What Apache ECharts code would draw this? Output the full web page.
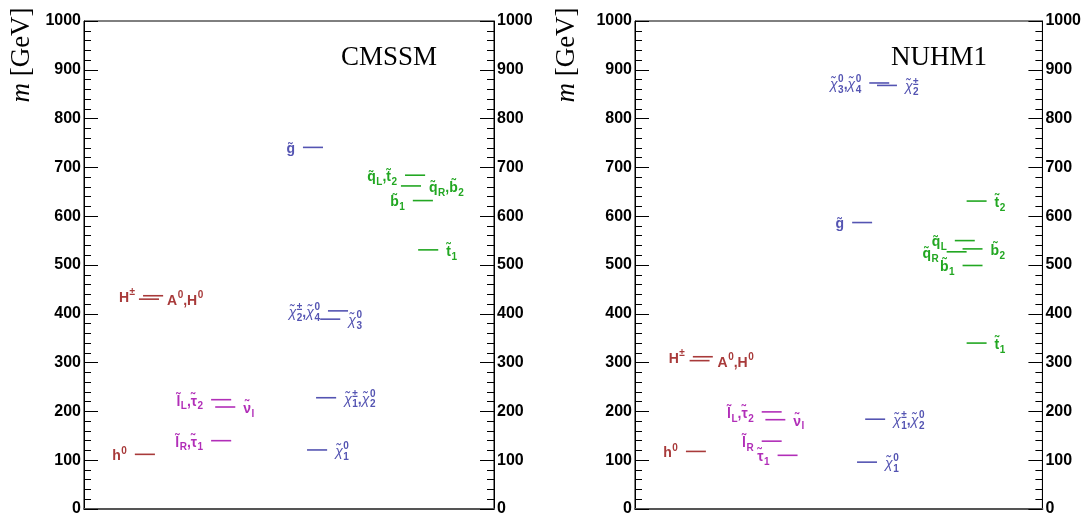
<!DOCTYPE html>
<html>
<head>
<meta charset="utf-8">
<script src="https://cdn.jsdelivr.net/npm/echarts@6/dist/echarts.min.js"></script>
<style>html,body{margin:0;padding:0;background:#fff}#c{width:1084px;height:517px}</style>
</head>
<body>
<div id="c"></div>
<script>
// ---------- DATA ----------
const yTicks = [0, 100, 200, 300, 400, 500, 600, 700, 800, 900, 1000];

// CMSSM spectrum
const cmssmLabels = ['h^0', 'H^±', 'A^0,H^0', 'l̃_R,τ̃_1', 'l̃_L,τ̃_2', 'ν̃_l',
  'χ̃_1^0', 'χ̃_1^±,χ̃_2^0', 'χ̃_2^±,χ̃_4^0', 'χ̃_3^0', 'g̃',
  'q̃_L,t̃_2', 'q̃_R,b̃_2', 'b̃_1', 't̃_1'];
const cmssmMasses = [112, 437, 430, 140, 224, 209, 121, 228, 406, 389, 741, 684, 662, 632, 531];
const cmssmColumns = [12.4, 14.4, 13.4, 31.0, 31.0, 32.0, 54.4, 56.6, 59.5, 57.6, 53.4, 78.3, 77.3, 80.2, 81.5];
const cmssmGroups = ['higgs', 'higgs', 'higgs', 'slepton', 'slepton', 'slepton',
  'gaugino', 'gaugino', 'gaugino', 'gaugino', 'gaugino', 'squark', 'squark', 'squark', 'squark'];
const cmssmSides = ['L', 'L', 'R', 'L', 'L', 'R', 'R', 'R', 'L', 'R', 'L', 'L', 'R', 'L', 'R'];

// NUHM1 spectrum
const nuhmLabels = ['h^0', 'H^±', 'A^0,H^0', 'l̃_R', 'τ̃_1', 'l̃_L,τ̃_2', 'ν̃_l',
  'χ̃_1^0', 'χ̃_1^±,χ̃_2^0', 'χ̃_3^0,χ̃_4^0', 'χ̃_2^±', 'g̃',
  't̃_2', 'q̃_L', 'b̃_2', 'q̃_R', 'b̃_1', 't̃_1'];
const nuhmMasses = [118, 312, 304, 139, 110, 199, 183, 96, 184, 873, 868, 587, 631, 550, 533, 527, 499, 340];
const nuhmColumns = [12.5, 14.2, 13.4, 31.1, 35.0, 31.1, 32.0, 54.5, 56.5, 57.5, 59.4, 53.3, 81.4, 78.5, 80.4, 76.5, 80.4, 81.4];
const nuhmGroups = ['higgs', 'higgs', 'higgs', 'slepton', 'slepton', 'slepton', 'slepton',
  'gaugino', 'gaugino', 'gaugino', 'gaugino', 'gaugino', 'squark', 'squark', 'squark', 'squark', 'squark', 'squark'];
const nuhmSides = ['L', 'L', 'R', 'L', 'L', 'L', 'R', 'R', 'R', 'L', 'R', 'L', 'R', 'L', 'R', 'L', 'L', 'R'];

// ---------- STYLE ----------
const groupColors = { higgs: '#a83a3a', slepton: '#b12eb8', gaugino: '#5454b2', squark: '#22a722' };
const SEG_W = 4.9;
const SANS = '"Liberation Sans", Arial, sans-serif';
const SERIF = '"Liberation Serif", "Times New Roman", serif';
const MAIN_FS = 14, SMALL_FS = 10;

const mctx = document.createElement('canvas').getContext('2d');
function fontSpec(a, fs) {
  return (a.italic ? 'italic ' : '') + (a.italic ? 'normal ' : 'bold ') + fs + 'px ' + SANS;
}
function textW(t, spec) { mctx.font = spec; return mctx.measureText(t).width; }

// split label into atoms: main glyph (+combining marks), optional sub/sup
function parseLabel(s) {
  const atoms = [];
  const chars = Array.from(s);
  for (let k = 0; k < chars.length; k++) {
    const c = chars[k];
    if ((c === '_' || c === '^') && k + 1 < chars.length && atoms.length) {
      atoms[atoms.length - 1][c === '_' ? 'sub' : 'sup'] = chars[k + 1];
      k++;
    } else if (/[\u0300-\u036f]/.test(c) && atoms.length) {
      atoms[atoms.length - 1].main += c;
    } else {
      atoms.push({ main: c, italic: c === 'χ' });
    }
  }
  return atoms;
}

function labelElements(label, ax, ay, side, color) {
  const atoms = parseLabel(label);
  const parts = [];
  let x = 0;
  atoms.forEach(a => {
    const w = textW(a.main, fontSpec(a, MAIN_FS));
    parts.push({ t: a.main, x: x, dy: 0, fs: MAIN_FS, it: a.italic });
    x += w;
    let extra = 0;
    const small = 'bold ' + SMALL_FS + 'px ' + SANS;
    if (a.sub) { parts.push({ t: a.sub, x: x + 0.5, dy: 5, fs: SMALL_FS }); extra = Math.max(extra, textW(a.sub, small) + 0.5); }
    if (a.sup) { parts.push({ t: a.sup, x: x + 0.5, dy: -5.5, fs: SMALL_FS }); extra = Math.max(extra, textW(a.sup, small) + 0.5); }
    x += extra;
  });
  const x0 = side === 'L' ? ax - x : ax;
  return parts.map(p => ({
    type: 'text', x: x0 + p.x, y: ay + p.dy,
    style: { text: p.t, fill: color, fontSize: p.fs, fontWeight: p.it ? 'normal' : 'bold',
      fontStyle: p.it ? 'italic' : 'normal', fontFamily: SANS,
      align: 'left', verticalAlign: 'middle' }
  }));
}

function makeSeries(idx, labels, masses, cols, groups, sides) {
  const data = masses.map((m, i) => [cols[i], m, i]);
  return {
    type: 'custom',
    xAxisIndex: idx, yAxisIndex: idx * 2,
    coordinateSystem: 'cartesian2d',
    encode: { x: 0, y: 1 },
    data: data,
    clip: false,
    renderItem: function (params, api) {
      const x0 = api.value(0), m = api.value(1), i = api.value(2);
      const p0 = api.coord([x0, m]);
      const p1 = api.coord([x0 + SEG_W, m]);
      const color = groupColors[groups[i]];
      const left = sides[i] === 'L';
      const children = [
        { type: 'line', shape: { x1: p0[0], y1: p0[1], x2: p1[0], y2: p1[1] },
          style: { stroke: color, lineWidth: 1.6 } }
      ].concat(labelElements(labels[i], left ? p0[0] - 8 : p1[0] + 8, p0[1] + 2, sides[i], color));
      return { type: 'group', children: children };
    }
  };
}

function yAxis(grid, pos) {
  return {
    gridIndex: grid, type: 'value', position: pos, min: yTicks[0], max: yTicks[yTicks.length - 1],
    interval: yTicks[1] - yTicks[0],
    axisLine: { show: true, lineStyle: { color: '#000', width: 1 } },
    axisTick: { show: true, inside: true, length: 14, lineStyle: { color: '#000' } },
    minorTick: { show: true, splitNumber: 5, length: 7, lineStyle: { color: '#000' } },
    axisLabel: { fontSize: 16, fontWeight: 'bold', color: '#000', fontFamily: SANS, margin: 3,
      padding: [6, 0, 0, 0], formatter: v => String(v) },
    splitLine: { show: false }
  };
}
function xAxis(grid) {
  return {
    gridIndex: grid, type: 'value', min: 0, max: 100,
    axisLine: { show: true, lineStyle: { color: '#555', width: 2 } },
    axisTick: { show: false }, axisLabel: { show: false }, splitLine: { show: false }
  };
}

const chart = echarts.init(document.getElementById('c'), null, { renderer: 'canvas' });
chart.setOption({
  animation: false,
  backgroundColor: '#fff',
  grid: [
    { left: 84, right: 590, top: 21, bottom: 5, show: true, borderColor: '#000', borderWidth: 1, backgroundColor: 'transparent' },
    { left: 635, right: 40, top: 21, bottom: 5, show: true, borderColor: '#000', borderWidth: 1, backgroundColor: 'transparent' }
  ],
  xAxis: [xAxis(0), xAxis(1)],
  yAxis: [yAxis(0, 'left'), yAxis(0, 'right'), yAxis(1, 'left'), yAxis(1, 'right')],
  series: [
    makeSeries(0, cmssmLabels, cmssmMasses, cmssmColumns, cmssmGroups, cmssmSides),
    makeSeries(1, nuhmLabels, nuhmMasses, nuhmColumns, nuhmGroups, nuhmSides)
  ],
  graphic: [
    { type: 'text', x: 22, y: 55, rotation: Math.PI / 2,
      style: { text: '{i|m} [GeV]', rich: { i: { fontStyle: 'italic', fontSize: 27, fontFamily: SERIF, fill: '#000' } },
        fontSize: 27, fontFamily: SERIF, fill: '#000', align: 'center', verticalAlign: 'middle' } },
    { type: 'text', x: 567, y: 55, rotation: Math.PI / 2,
      style: { text: '{i|m} [GeV]', rich: { i: { fontStyle: 'italic', fontSize: 27, fontFamily: SERIF, fill: '#000' } },
        fontSize: 27, fontFamily: SERIF, fill: '#000', align: 'center', verticalAlign: 'middle' } },
    { type: 'text', x: 437, y: 58,
      style: { text: 'CMSSM', fontSize: 27, fontFamily: SERIF, fill: '#000', align: 'right', verticalAlign: 'middle' } },
    { type: 'text', x: 987, y: 58,
      style: { text: 'NUHM1', fontSize: 27, fontFamily: SERIF, fill: '#000', align: 'right', verticalAlign: 'middle' } }
  ]
});
</script>
</body>
</html>
